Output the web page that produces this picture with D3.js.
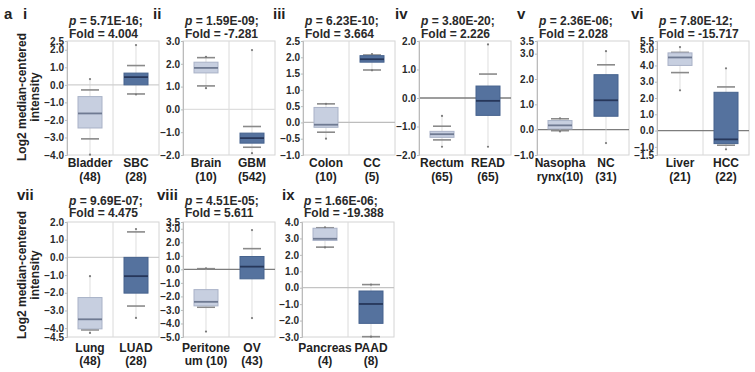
<!DOCTYPE html>
<html>
<head>
<meta charset="utf-8">
<script src="https://cdn.jsdelivr.net/npm/d3@7"></script>
<style>
  body { margin: 0; background: #fff; }
  svg { display: block; font-family: Arial, "Liberation Sans", sans-serif; }
  .tick text { font-size: 10px; font-weight: bold; fill: #2a2a2a; }
</style>
</head>
<body>
<div id="chart"></div>
<script>
// ---- data ----
const panelIds = ['i', 'ii', 'iii', 'iv', 'v', 'vi', 'vii', 'viii', 'ix'];
const pValues = ['5.71E-16', '1.59E-09', '6.23E-10', '3.80E-20', '2.36E-06', '7.80E-12', '9.69E-07', '4.51E-05', '1.66E-06'];
const foldValues = ['4.004', '-7.281', '3.664', '2.226', '2.028', '-15.717', '4.475', '5.611', '-19.388'];

const normalLabels = [['Bladder', '(48)'], ['Brain', '(10)'], ['Colon', '(10)'], ['Rectum', '(65)'], ['Nasopha', 'rynx(10)'],
  ['Liver', '(21)'], ['Lung', '(48)'], ['Peritone', 'um (10)'], ['Pancreas', '(4)']];
const cancerLabels = [['SBC', '(28)'], ['GBM', '(542)'], ['CC', '(5)'], ['READ', '(65)'], ['NC', '(31)'],
  ['HCC', '(22)'], ['LUAD', '(28)'], ['OV', '(43)'], ['PAAD', '(8)']];

const yDomains = [[-4, 2.5], [-2, 3], [-1, 2.5], [-2, 2], [-1, 3.5], [-1.5, 5.5], [-4.5, 2], [-5, 3.5], [-3, 4]];
const yTicks = [
  [2.5, 2, 1, 0, -1, -2, -3, -4],
  [3, 2, 1, 0, -1, -2],
  [2.5, 2, 1.5, 1, 0.5, 0, -0.5, -1],
  [2, 1, 0, -1, -2],
  [3.5, 3, 2, 1, 0, -1],
  [5.5, 5, 4, 3, 2, 1, 0, -1, -1.5],
  [2, 1, 0, -1, -2, -3, -4, -4.5],
  [3.5, 3, 2, 1, 0, -1, -2, -3, -4, -5],
  [4, 3, 2, 1, 0, -1, -2, -3]
];

// [min, lower whisker, q1, median, q3, upper whisker, max]
const normalStats = [
  [-3.98, -3.08, -2.46, -1.63, -0.67, -0.29, 0.33],
  [0.93, 1.03, 1.6, 1.82, 2.07, 2.27, 2.3],
  [-0.5, -0.3, -0.15, -0.07, 0.46, 0.57, 0.57],
  [-1.71, -1.47, -1.38, -1.27, -1.17, -0.99, -0.63],
  [-0.07, -0.04, 0.03, 0.17, 0.36, 0.43, 0.45],
  [2.47, 3.56, 4.0, 4.49, 4.77, 4.8, 5.13],
  [-4.27, -4.1, -4.04, -3.5, -2.27, -2.27, -1.06],
  [-4.6, -2.8, -2.7, -2.4, -1.5, 0.05, 0.08],
  [2.45, 2.47, 2.88, 2.98, 3.62, 3.65, 3.68]
];
const cancerStats = [
  [-0.55, -0.52, 0.0, 0.44, 0.67, 1.1, 2.27],
  [-1.92, -1.66, -1.48, -1.26, -1.04, -0.75, 2.6],
  [1.6, 1.61, 1.85, 1.94, 2.05, 2.07, 2.1],
  [-1.71, -0.61, -0.61, -0.1, 0.42, 0.84, 1.88],
  [-0.53, 0.53, 0.53, 1.16, 2.17, 2.56, 3.1],
  [-1.15, -0.9, -0.8, -0.54, 2.35, 2.68, 3.82],
  [-3.42, -2.75, -2.02, -1.06, 0.0, 1.44, 1.6],
  [-3.6, -0.7, -0.7, 0.2, 0.95, 1.53, 2.9],
  [-2.98, -2.98, -2.17, -0.99, -0.2, 0.19, 0.19]
];

// ---- layout ----
const W = 755, H = 372;
const frameW = 92, boxW = 24, capW = 18;
const frameLefts = [67, 183, 303, 419, 537, 657, 67, 183, 302];
const numeralX = [23, 153, 273, 395, 517, 631, 17, 157, 282];
const rows = [
  { top: 41, bottom: 155, numeralY: 19, pY: 25, foldY: 37.5, catY: 167, cntY: 180.5, axisTitleY: 97 },
  { top: 222, bottom: 337, numeralY: 200, pY: 204.5, foldY: 217, catY: 352, cntY: 364.5, axisTitleY: 275 }
];
const zeroColors = ['#cfcfcf', '#dedede', '#bdbdbd', '#7d7d7d', '#7d7d7d', '#7d7d7d', '#cfcfcf', '#7d7d7d', '#c4c4c4'];
const styles = {
  normal: { fill: '#c7cfe0', stroke: '#a9b2c7', median: '#6f7a92' },
  cancer: { fill: '#55729e', stroke: '#46638e', median: '#27375a' }
};

const svg = d3.select('#chart').append('svg')
  .attr('width', W).attr('height', H)
  .attr('viewBox', `0 0 ${W} ${H}`);

svg.append('text').attr('x', 4).attr('y', 19)
  .attr('font-size', 15).attr('font-weight', 'bold').attr('fill', '#222').text('a');

// y-axis titles, one per row
rows.forEach(r => {
  const t = svg.append('text')
    .attr('transform', `translate(26,${r.axisTitleY}) rotate(-90)`)
    .attr('text-anchor', 'middle')
    .attr('font-size', 12).attr('font-weight', 'bold').attr('fill', '#222');
  t.append('tspan').attr('x', 0).attr('dy', 0).text('Log2 median-centered');
  t.append('tspan').attr('x', 0).attr('dy', 13).text('intensity');
});

function drawBox(g, y, cx, s, st) {
  const [mn, wl, q1, med, q3, wh, mx] = s;
  // stems run out to the extreme points, caps sit at the whiskers
  g.append('line').attr('x1', cx).attr('x2', cx).attr('y1', y(q3)).attr('y2', y(Math.max(wh, mx)))
    .attr('stroke', '#d0d0d0').attr('stroke-width', 0.7);
  g.append('line').attr('x1', cx).attr('x2', cx).attr('y1', y(q1)).attr('y2', y(Math.min(wl, mn)))
    .attr('stroke', '#d0d0d0').attr('stroke-width', 0.7);
  [wl, wh].forEach(v => {
    if (v === q1 || v === q3) return;
    g.append('line').attr('x1', cx - capW / 2).attr('x2', cx + capW / 2)
      .attr('y1', y(v)).attr('y2', y(v))
      .attr('stroke', '#8a8a8a').attr('stroke-width', 1.6);
  });
  // box
  g.append('rect').attr('x', cx - boxW / 2).attr('width', boxW)
    .attr('y', y(q3)).attr('height', Math.max(1, y(q1) - y(q3)))
    .attr('fill', st.fill).attr('stroke', st.stroke).attr('stroke-width', 1);
  g.append('line').attr('x1', cx - boxW / 2).attr('x2', cx + boxW / 2)
    .attr('y1', y(med)).attr('y2', y(med))
    .attr('stroke', st.median).attr('stroke-width', 1.8);
  // extreme points
  [mn, mx].forEach(v => {
    g.append('circle').attr('cx', cx).attr('cy', y(v)).attr('r', 1.1).attr('fill', '#7a7a7a');
  });
}

panelIds.forEach((id, i) => {
  const r = rows[i < 6 ? 0 : 1];
  const x0 = frameLefts[i];
  const y = d3.scaleLinear().domain(yDomains[i]).range([r.bottom, r.top]);
  const x = d3.scalePoint().domain(['normal', 'cancer']).range([x0, x0 + frameW]).padding(0.5);
  const g = svg.append('g').attr('class', 'panel-' + id);

  // numeral + titles
  g.append('text').attr('x', numeralX[i]).attr('y', r.numeralY)
    .attr('font-size', 15).attr('font-weight', 'bold').attr('fill', '#222').text(id);
  const p = g.append('text').attr('x', x0 + 2).attr('y', r.pY)
    .attr('font-size', 12).attr('font-weight', 'bold').attr('fill', '#2a2a2a');
  p.append('tspan').attr('font-style', 'italic').text('p');
  p.append('tspan').text(' = ' + pValues[i] + ';');
  g.append('text').attr('x', x0 + 2).attr('y', r.foldY)
    .attr('font-size', 12).attr('font-weight', 'bold').attr('fill', '#2a2a2a')
    .text('Fold = ' + foldValues[i]);

  // frame, divider, zero line
  g.append('rect').attr('x', x0).attr('y', r.top).attr('width', frameW).attr('height', r.bottom - r.top)
    .attr('fill', 'none').attr('stroke', '#d4d4d4');
  g.append('line').attr('x1', x0 + frameW / 2).attr('x2', x0 + frameW / 2)
    .attr('y1', r.top).attr('y2', r.bottom).attr('stroke', '#dadada');
  g.append('line').attr('x1', x0).attr('x2', x0 + frameW)
    .attr('y1', y(0)).attr('y2', y(0)).attr('stroke', zeroColors[i]).attr('stroke-width', 1.3);

  // axis
  const ax = g.append('g').attr('transform', `translate(${x0},0)`)
    .call(d3.axisLeft(y).tickValues(yTicks[i]).tickSize(2).tickPadding(1).tickFormat(d3.format('.1f')));
  ax.select('.domain').attr('stroke', '#bbb');
  ax.selectAll('.tick line').attr('stroke', '#bbb');

  drawBox(g, y, x('normal'), normalStats[i], styles.normal);
  drawBox(g, y, x('cancer'), cancerStats[i], styles.cancer);

  // category labels
  [['normal', normalLabels[i]], ['cancer', cancerLabels[i]]].forEach(([k, lab]) => {
    g.append('text').attr('x', x(k)).attr('y', r.catY).attr('text-anchor', 'middle')
      .attr('font-size', 12).attr('font-weight', 'bold').attr('fill', '#222').text(lab[0]);
    g.append('text').attr('x', x(k)).attr('y', r.cntY).attr('text-anchor', 'middle')
      .attr('font-size', 12).attr('font-weight', 'bold').attr('fill', '#222').text(lab[1]);
  });
});
</script>
</body>
</html>
